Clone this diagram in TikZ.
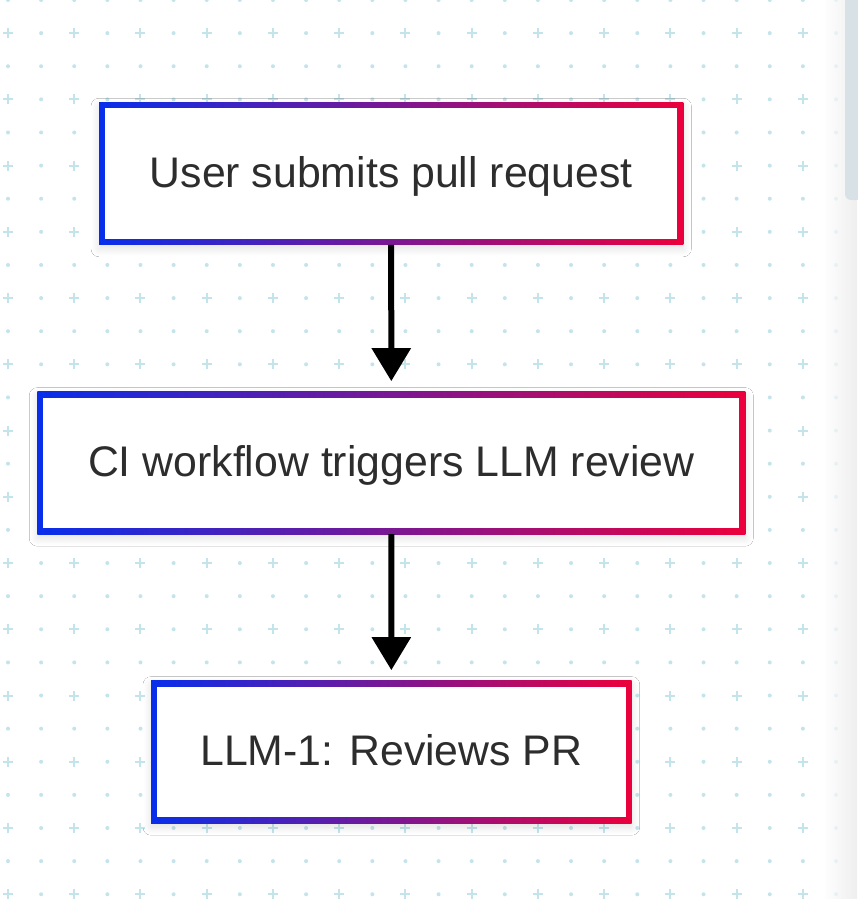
\documentclass[tikz,border=0pt]{standalone}
\usepackage{fontspec}
\setmainfont{Liberation Sans}
\usetikzlibrary{arrows.meta,shadows.blur}
\definecolor{gridc}{RGB}{196,228,236}
\definecolor{blueC}{RGB}{8,46,235}
\definecolor{redC}{RGB}{236,0,60}
\definecolor{txtc}{RGB}{45,45,45}
\definecolor{barc}{RGB}{216,225,229}
\tikzset{
  gbox/.style={rectangle, inner sep=0pt, outer sep=0pt,
    minimum height=142.5pt,
    shade, left color=blueC, right color=redC,
    blur shadow={shadow xshift=0pt, shadow yshift=-4pt, shadow blur radius=8pt, shadow blur steps=16, shadow blur extra rounding=0pt, shadow opacity=12},
    path picture={\fill[white] ([shift={(6pt,-6pt)}]path picture bounding box.north west) rectangle ([shift={(-6pt,6pt)}]path picture bounding box.south east);},
    text=txtc, font=\fontsize{42.8}{50}\selectfont, text height=32pt, text depth=4pt},
  arr/.style={line width=6pt, black, -{Triangle[width=38pt,length=33pt]}, shorten >=10.5pt},
  gdot/.style={fill=gridc},
  gplus/.style={draw=gridc, line width=2pt}
}
\begin{document}
\begin{tikzpicture}[x=1pt,y=1pt]
\useasboundingbox (0,0) rectangle (857,-899);
\fill[white] (0,0) rectangle (857,-899);
% background grid
\foreach \k in {0,...,25}{
  \foreach \j in {0,...,27}{
    \pgfmathsetmacro\xx{8+33.12*\k}
    \pgfmathsetmacro\yy{-33.12*\j}
    \ifodd\j
      \ifodd\k
        \fill[gdot] (\xx,\yy) circle (2);
      \else
        \draw[gplus] (\xx-5,\yy) -- (\xx+5,\yy) (\xx,\yy-5) -- (\xx,\yy+5);
      \fi
    \else
      \fill[gdot] (\xx,\yy) circle (2);
    \fi
  }
}
% right edge shading and bar
\shade[left color=white, right color=black!9, opacity=0.7] (823,0) rectangle (857,-899);
\fill[barc, rounded corners=6pt] (845,12) rectangle (862,-200);
% boxes
\node[gbox, minimum width=584.3pt] (b1) at (391.2,-173.5) {User submits pull request};
\node[gbox, minimum width=708pt] (b2) at (391.3,-462.9) {CI workflow triggers LLM review};
\node[gbox, minimum width=480.7pt] (b3) at (391.35,-751.9) {LLM-1: Reviews PR};
% arrows
\draw[arr] (b1.south) -- (b2.north);
\draw[arr] (b2.south) -- (b3.north);
\end{tikzpicture}
\end{document}
